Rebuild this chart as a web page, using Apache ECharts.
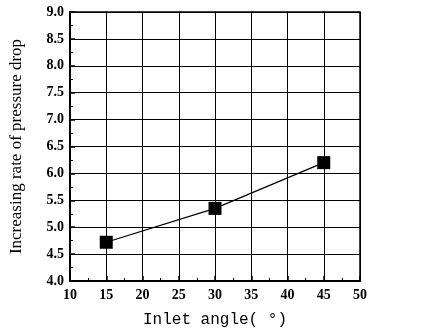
<!DOCTYPE html>
<html>
<head>
<meta charset="utf-8">
<script src="https://cdn.jsdelivr.net/npm/echarts@6/dist/echarts.min.js"></script>
<style>
  html, body { margin: 0; padding: 0; background: #fff; }
  #chart { width: 430px; height: 332px; }
</style>
</head>
<body>
<div id="chart"></div>
<script>
// Inlet angle (degrees) and the resulting increase rate of pressure drop
const inletAngles = [15, 30, 45];
const increaseRate = [4.72, 5.35, 6.2];

const xTicks = { min: 10, max: 50, step: 5 };
const yTicks = { min: 4.0, max: 9.0, step: 0.5 };

const chart = echarts.init(document.getElementById('chart'));

const labelFont = {
  fontFamily: '"Liberation Serif", "DejaVu Serif", serif',
  fontWeight: 'bold',
  fontSize: 14,
  color: '#000'
};

chart.setOption({
  animation: false,
  backgroundColor: '#fff',
  grid: {
    left: 70, right: 70, top: 12, bottom: 51,
    outerBoundsMode: 'none', containLabel: false,
    show: true, borderColor: '#000', borderWidth: 1.5
  },
  xAxis: {
    type: 'value',
    min: xTicks.min, max: xTicks.max, interval: xTicks.step,
    name: 'Inlet angle( °)',
    nameLocation: 'middle',
    nameGap: 31,
    nameTextStyle: { fontFamily: '"Liberation Mono", "DejaVu Sans Mono", monospace', fontSize: 16, color: '#000' },
    axisLine: { lineStyle: { color: '#000', width: 2 } },
    axisTick: { inside: true, length: 5, lineStyle: { color: '#000', width: 1.5 } },
    minorTick: { show: true, splitNumber: 2, length: 3, lineStyle: { color: '#000' } },
    axisLabel: Object.assign({ margin: 7 }, labelFont),
    splitLine: { show: true, lineStyle: { color: '#000', width: 1 } }
  },
  yAxis: {
    type: 'value',
    min: yTicks.min, max: yTicks.max, interval: yTicks.step,
    name: 'Increasing rate of pressure drop',
    nameLocation: 'middle',
    nameGap: 45,
    nameTextStyle: { fontFamily: '"Liberation Serif", "DejaVu Serif", serif', fontSize: 17, color: '#000' },
    axisLine: { lineStyle: { color: '#000', width: 2 } },
    axisTick: { inside: true, length: 5, lineStyle: { color: '#000', width: 1.5 } },
    minorTick: { show: true, splitNumber: 2, length: 3, lineStyle: { color: '#000' } },
    axisLabel: Object.assign({ margin: 6, formatter: v => v.toFixed(1) }, labelFont),
    splitLine: { show: true, lineStyle: { color: '#000', width: 1 } }
  },
  series: [{
    type: 'line',
    data: inletAngles.map((a, i) => [a, increaseRate[i]]),
    symbol: 'rect',
    symbolSize: 13,
    itemStyle: { color: '#000' },
    lineStyle: { color: '#000', width: 1.2 }
  }]
});
</script>
</body>
</html>
